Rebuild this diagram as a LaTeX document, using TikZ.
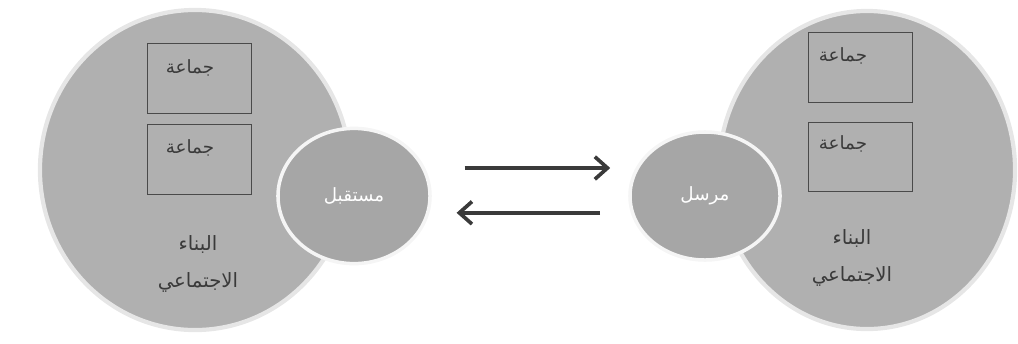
\documentclass[tikz,border=0pt]{standalone}
\usepackage{fontspec}
\newfontfamily\arabicfont[Script=Arabic]{DejaVu Sans}
\TeXXeTstate=1
\usetikzlibrary{arrows.meta,shapes.geometric}
\definecolor{bodygray}{HTML}{B0B0B0}
\definecolor{rimgray}{HTML}{E6E6E6}
\definecolor{bubblegray}{HTML}{A6A6A6}
\definecolor{boxline}{HTML}{4A4A4A}
\definecolor{inkgray}{HTML}{3A3A3A}

\tikzset{
  society/.style={ellipse, fill=bodygray, draw=rimgray, line width=3pt, inner sep=0pt},
  bubble/.style={ellipse, fill=bubblegray, draw=white!92!gray, line width=2.5pt, inner sep=0pt,
    text=white, font=\arabicfont\fontsize{13}{15}\selectfont},
  groupbox/.style={draw=boxline, line width=0.8pt, minimum width=2.62cm, minimum height=1.73cm, inner sep=0pt},
  grouptext/.style={text=inkgray, font=\arabicfont\fontsize{13}{15}\selectfont},
  bodytext/.style={text=inkgray, align=center, font=\arabicfont\fontsize{14}{26}\selectfont},
  flow/.style={draw=inkgray, line width=2.8pt, -{Straight Barb[length=9pt,width=16pt,line width=2.6pt]}}
}

\begin{document}
\begin{tikzpicture}[x=0.025cm,y=-0.025cm]
  \useasboundingbox (0,0) rectangle (1018,343);
  % receiving side
  \node[society, minimum width=7.75cm, minimum height=8cm] (lbody) at (195,170) {};
  \node[groupbox] (lgroupA) at (199.5,78.5) {};
  \node[groupbox] (lgroupB) at (199.5,159.5) {};
  \node[grouptext] (lgroupAtxt) at (190,68) {\beginR جماعة\endR};
  \node[grouptext] (lgroupBtxt) at (190,148) {\beginR جماعة\endR};
  \node[bodytext] (lbodytxt) at (198,264) {\beginR البناء\endR\\ \beginR الاجتماعي\endR};
  \node[bubble, minimum width=3.8cm, minimum height=3.38cm] (recv) at (354,196) {\beginR مستقبل\endR};
  % sending side
  \node[society, minimum width=7.4cm, minimum height=7.95cm] (rbody) at (867,170) {};
  \node[groupbox] (rgroupA) at (860.5,67.5) {};
  \node[groupbox] (rgroupB) at (860.5,157) {};
  \node[grouptext] (rgroupAtxt) at (843,56) {\beginR جماعة\endR};
  \node[grouptext] (rgroupBtxt) at (843,144) {\beginR جماعة\endR};
  \node[bodytext] (rbodytxt) at (852,258) {\beginR البناء\endR\\ \beginR الاجتماعي\endR};
  \node[bubble, minimum width=3.75cm, minimum height=3.2cm] (send) at (705,196) {\beginR مرسل\endR};
  % the two arrows
  \draw[flow, shorten <=0.82cm, shorten >=0.45cm] ([yshift=0.7cm]recv.east) -- ([yshift=0.7cm]send.west);
  \draw[flow, shorten <=0.7cm, shorten >=0.62cm] ([yshift=-0.42cm]send.west) -- ([yshift=-0.42cm]recv.east);
\end{tikzpicture}
\end{document}
